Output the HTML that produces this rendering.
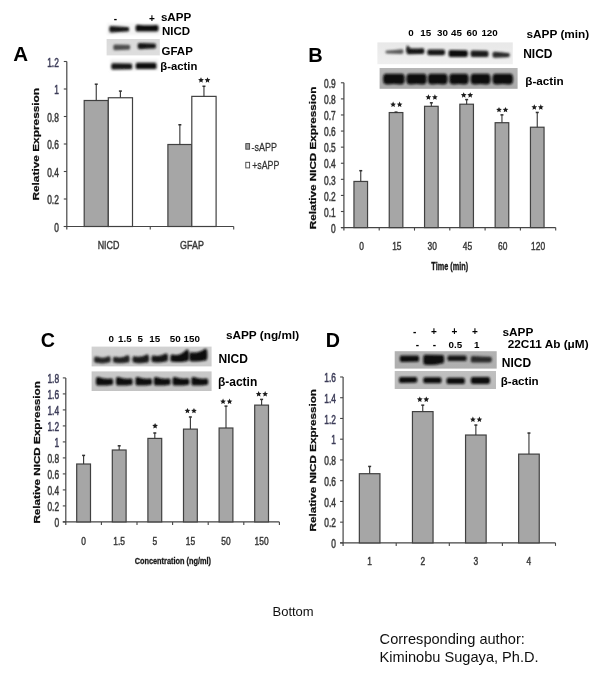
<!DOCTYPE html>
<html><head><meta charset="utf-8"><title>Figure</title>
<style>html,body{margin:0;padding:0;background:#fff;width:602px;height:678px;overflow:hidden}svg{display:block}text{font-family:"Liberation Sans", sans-serif}</style>
</head><body>
<svg width="602" height="678" viewBox="0 0 602 678" font-family='"Liberation Sans", sans-serif'><defs><filter id="gblur" filterUnits="userSpaceOnUse" x="0" y="0" width="602" height="678"><feGaussianBlur stdDeviation="0.6"/></filter><filter id="b8" x="-50%" y="-50%" width="200%" height="200%"><feGaussianBlur stdDeviation="0.8"/></filter><filter id="b9" x="-50%" y="-50%" width="200%" height="200%"><feGaussianBlur stdDeviation="0.9"/></filter><filter id="b10" x="-50%" y="-50%" width="200%" height="200%"><feGaussianBlur stdDeviation="1.0"/></filter></defs><rect width="602" height="678" fill="#fff"/><g filter="url(#gblur)"><text transform="translate(13.30,61.30) scale(1.0,1.0)" font-size="20.5" font-weight="bold" text-anchor="start" fill="#000" >A</text>
<linearGradient id="g1" x1="0" y1="0" x2="0" y2="1"><stop offset="0" stop-color="#f6f6f6"/><stop offset="1" stop-color="#f3f3f3"/></linearGradient>
<rect x="107.00" y="23.00" width="53.00" height="12.00" fill="url(#g1)" filter="url(#b10)"/>
<path d="M109.30,29.15 C109.30,25.90 110.30,25.90 111.80,25.90 Q119.25,26.40 126.70,26.90 C128.20,26.90 129.20,26.90 129.20,29.20 C129.20,31.50 128.20,31.50 126.70,31.50 Q119.25,31.95 111.80,32.40 C110.30,32.40 109.30,32.40 109.30,29.15 Z" fill="#141414" opacity="1.0" filter="url(#b9)"/>
<path d="M135.60,28.15 C135.60,24.80 136.60,24.80 138.10,24.80 Q147.05,25.70 156.00,25.00 C157.50,25.00 158.50,25.00 158.50,28.20 C158.50,31.40 157.50,31.40 156.00,31.40 Q147.05,31.45 138.10,31.50 C136.60,31.50 135.60,31.50 135.60,28.15 Z" fill="#0e0e0e" opacity="1.0" filter="url(#b9)"/>
<linearGradient id="g5" x1="0" y1="0" x2="0" y2="1"><stop offset="0" stop-color="#dadada"/><stop offset="1" stop-color="#dedede"/></linearGradient>
<rect x="106.60" y="39.00" width="53.20" height="16.40" fill="url(#g5)" />
<path d="M113.30,47.40 C113.30,44.60 114.30,44.60 115.80,44.60 Q121.75,44.70 127.70,44.80 C129.20,44.80 130.20,44.80 130.20,47.30 C130.20,49.80 129.20,49.80 127.70,49.80 Q121.75,50.00 115.80,50.20 C114.30,50.20 113.30,50.20 113.30,47.40 Z" fill="#505050" opacity="1.0" filter="url(#b10)"/>
<path d="M137.70,46.10 C137.70,43.00 138.70,43.00 140.20,43.00 Q146.85,43.30 153.50,43.60 C155.00,43.60 156.00,43.60 156.00,46.10 C156.00,48.60 155.00,48.60 153.50,48.60 Q146.85,48.90 140.20,49.20 C138.70,49.20 137.70,49.20 137.70,46.10 Z" fill="#141414" opacity="1.0" filter="url(#b9)"/>
<linearGradient id="g9" x1="0" y1="0" x2="0" y2="1"><stop offset="0" stop-color="#eeeeee"/><stop offset="1" stop-color="#eaeaea"/></linearGradient>
<rect x="110.50" y="59.40" width="47.80" height="11.00" fill="url(#g9)" filter="url(#b8)"/>
<path d="M111.30,66.40 C111.30,63.30 112.30,63.30 113.80,63.30 Q121.75,63.40 129.70,63.50 C131.20,63.50 132.20,63.50 132.20,66.40 C132.20,69.30 131.20,69.30 129.70,69.30 Q121.75,69.40 113.80,69.50 C112.30,69.50 111.30,69.50 111.30,66.40 Z" fill="#121212" opacity="1.0" filter="url(#b8)"/>
<path d="M135.70,65.90 C135.70,62.70 136.70,62.70 138.20,62.70 Q146.10,62.70 154.00,62.70 C155.50,62.70 156.50,62.70 156.50,65.90 C156.50,69.10 155.50,69.10 154.00,69.10 Q146.10,69.10 138.20,69.10 C136.70,69.10 135.70,69.10 135.70,65.90 Z" fill="#111" opacity="1.0" filter="url(#b8)"/>
<text transform="translate(115.30,21.50) scale(1.0,1.0)" font-size="10" font-weight="bold" text-anchor="middle" fill="#000" >-</text>
<text transform="translate(152.00,21.50) scale(1.0,1.0)" font-size="10" font-weight="bold" text-anchor="middle" fill="#000" >+</text>
<text transform="translate(160.90,20.70) scale(1.0,1.0)" font-size="11.6" font-weight="bold" text-anchor="start" fill="#000" >sAPP</text>
<text transform="translate(162.00,35.40) scale(1.0,1.0)" font-size="11.5" font-weight="bold" text-anchor="start" fill="#000" >NICD</text>
<text transform="translate(161.50,54.90) scale(1.0,1.0)" font-size="11.5" font-weight="bold" text-anchor="start" fill="#000" >GFAP</text>
<text transform="translate(160.30,69.70) scale(1.0,1.0)" font-size="11.3" font-weight="bold" text-anchor="start" fill="#000" >β-actin</text>
<line x1="63.80" y1="226.50" x2="66.80" y2="226.50" stroke="#454545" stroke-width="1.1"/>
<text transform="translate(58.80,231.67) scale(1.0,1.42)" font-size="8.4" font-weight="normal" text-anchor="end" fill="#3a3a3a"  stroke="#3a3a3a" stroke-width="0.35">0</text>
<line x1="63.80" y1="199.00" x2="66.80" y2="199.00" stroke="#454545" stroke-width="1.1"/>
<text transform="translate(58.80,204.17) scale(1.0,1.42)" font-size="8.4" font-weight="normal" text-anchor="end" fill="#3a3a3a"  stroke="#3a3a3a" stroke-width="0.35">0.2</text>
<line x1="63.80" y1="171.50" x2="66.80" y2="171.50" stroke="#454545" stroke-width="1.1"/>
<text transform="translate(58.80,176.67) scale(1.0,1.42)" font-size="8.4" font-weight="normal" text-anchor="end" fill="#3a3a3a"  stroke="#3a3a3a" stroke-width="0.35">0.4</text>
<line x1="63.80" y1="144.00" x2="66.80" y2="144.00" stroke="#454545" stroke-width="1.1"/>
<text transform="translate(58.80,149.17) scale(1.0,1.42)" font-size="8.4" font-weight="normal" text-anchor="end" fill="#3a3a3a"  stroke="#3a3a3a" stroke-width="0.35">0.6</text>
<line x1="63.80" y1="116.50" x2="66.80" y2="116.50" stroke="#454545" stroke-width="1.1"/>
<text transform="translate(58.80,121.67) scale(1.0,1.42)" font-size="8.4" font-weight="normal" text-anchor="end" fill="#3a3a3a"  stroke="#3a3a3a" stroke-width="0.35">0.8</text>
<line x1="63.80" y1="89.00" x2="66.80" y2="89.00" stroke="#454545" stroke-width="1.1"/>
<text transform="translate(58.80,94.17) scale(1.0,1.42)" font-size="8.4" font-weight="normal" text-anchor="end" fill="#3c3c58"  stroke="#3c3c58" stroke-width="0.35">1</text>
<line x1="63.80" y1="61.50" x2="66.80" y2="61.50" stroke="#454545" stroke-width="1.1"/>
<text transform="translate(58.80,66.67) scale(1.0,1.42)" font-size="8.4" font-weight="normal" text-anchor="end" fill="#3c3c58"  stroke="#3c3c58" stroke-width="0.35">1.2</text>
<line x1="66.80" y1="61.50" x2="66.80" y2="229.50" stroke="#454545" stroke-width="1.2"/>
<line x1="63.80" y1="226.50" x2="233.70" y2="226.50" stroke="#454545" stroke-width="1.2"/>
<line x1="150.25" y1="226.50" x2="150.25" y2="229.50" stroke="#454545" stroke-width="1.1"/>
<line x1="233.70" y1="226.50" x2="233.70" y2="229.50" stroke="#454545" stroke-width="1.1"/>
<rect x="84.20" y="100.50" width="24.10" height="126.00" fill="#a6a6a6" stroke="#404040" stroke-width="1.2" />
<line x1="96.25" y1="100.50" x2="96.25" y2="84.00" stroke="#3a3a3a" stroke-width="1.15"/>
<line x1="94.75" y1="84.20" x2="97.75" y2="84.20" stroke="#333" stroke-width="1.5"/>
<rect x="108.30" y="97.75" width="24.20" height="128.75" fill="#fff" stroke="#404040" stroke-width="1.2" />
<line x1="120.40" y1="97.75" x2="120.40" y2="90.88" stroke="#3a3a3a" stroke-width="1.15"/>
<line x1="118.90" y1="91.08" x2="121.90" y2="91.08" stroke="#333" stroke-width="1.5"/>
<rect x="167.90" y="144.50" width="23.90" height="82.00" fill="#a6a6a6" stroke="#404040" stroke-width="1.2" />
<line x1="179.85" y1="144.50" x2="179.85" y2="124.56" stroke="#3a3a3a" stroke-width="1.15"/>
<line x1="178.35" y1="124.76" x2="181.35" y2="124.76" stroke="#333" stroke-width="1.5"/>
<rect x="191.80" y="96.38" width="24.30" height="130.12" fill="#fff" stroke="#404040" stroke-width="1.2" />
<line x1="203.95" y1="96.38" x2="203.95" y2="86.06" stroke="#3a3a3a" stroke-width="1.15"/>
<line x1="202.45" y1="86.26" x2="205.45" y2="86.26" stroke="#333" stroke-width="1.5"/>
<polygon points="201.00,77.20 201.82,79.07 203.85,79.27 202.33,80.63 202.76,82.63 201.00,81.60 199.24,82.63 199.67,80.63 198.15,79.27 200.18,79.07" fill="#1a1a1a"/>
<polygon points="207.50,77.20 208.32,79.07 210.35,79.27 208.83,80.63 209.26,82.63 207.50,81.60 205.74,82.63 206.17,80.63 204.65,79.27 206.68,79.07" fill="#1a1a1a"/>
<text transform="translate(108.53,248.74) scale(1.0,1.3)" font-size="8.9" font-weight="normal" text-anchor="middle" fill="#3a3a3a"  stroke="#3a3a3a" stroke-width="0.35">NICD</text>
<text transform="translate(191.98,248.74) scale(1.0,1.3)" font-size="8.9" font-weight="normal" text-anchor="middle" fill="#3a3a3a"  stroke="#3a3a3a" stroke-width="0.35">GFAP</text>
<text transform="translate(38.59,144.25) rotate(-90) scale(1.29,1.0)" font-size="9.2" font-weight="bold" text-anchor="middle" fill="#111"  stroke="#111" stroke-width="0.25">Relative Expression</text>
<rect x="245.80" y="143.60" width="3.80" height="5.60" fill="#a0a0a0" stroke="#444" stroke-width="0.9" />
<text transform="translate(251.50,150.70) scale(1.0,1.25)" font-size="9.0" font-weight="normal" text-anchor="start" fill="#333"  stroke="#333" stroke-width="0.2">-sAPP</text>
<rect x="245.80" y="162.30" width="3.80" height="5.60" fill="#fff" stroke="#444" stroke-width="0.9" />
<text transform="translate(252.20,168.90) scale(1.0,1.25)" font-size="8.8" font-weight="normal" text-anchor="start" fill="#333"  stroke="#333" stroke-width="0.2">+sAPP</text>
<text transform="translate(308.30,61.50) scale(1.0,1.0)" font-size="20" font-weight="bold" text-anchor="start" fill="#000" >B</text>
<text transform="translate(410.85,36.30) scale(1.0,1.0)" font-size="9.8" font-weight="bold" text-anchor="middle" fill="#000" >0</text>
<text transform="translate(425.65,36.30) scale(1.0,1.0)" font-size="9.8" font-weight="bold" text-anchor="middle" fill="#000" >15</text>
<text transform="translate(442.45,36.30) scale(1.0,1.0)" font-size="9.8" font-weight="bold" text-anchor="middle" fill="#000" >30</text>
<text transform="translate(456.50,36.30) scale(1.0,1.0)" font-size="9.8" font-weight="bold" text-anchor="middle" fill="#000" >45</text>
<text transform="translate(472.00,36.30) scale(1.0,1.0)" font-size="9.8" font-weight="bold" text-anchor="middle" fill="#000" >60</text>
<text transform="translate(489.55,36.30) scale(1.0,1.0)" font-size="9.8" font-weight="bold" text-anchor="middle" fill="#000" >120</text>
<text transform="translate(526.50,37.70) scale(1.0,1.0)" font-size="11.8" font-weight="bold" text-anchor="start" fill="#000" >sAPP (min)</text>
<linearGradient id="g66" x1="0" y1="0" x2="0" y2="1"><stop offset="0" stop-color="#e8e8e8"/><stop offset="1" stop-color="#efefef"/></linearGradient>
<rect x="377.40" y="42.40" width="135.40" height="21.80" fill="url(#g66)" />
<path d="M385.50,52.10 C385.50,50.60 386.50,50.60 388.00,50.60 Q394.50,49.90 401.00,49.20 C402.50,49.20 403.50,49.20 403.50,51.60 C403.50,54.00 402.50,54.00 401.00,54.00 Q394.50,53.80 388.00,53.60 C386.50,53.60 385.50,53.60 385.50,52.10 Z" fill="#5a5a5a" opacity="1.0" filter="url(#b9)"/>
<path d="M406.50,51.20 C406.50,48.20 407.50,48.20 409.00,48.20 Q415.45,49.00 421.90,48.20 C423.40,48.20 424.40,48.20 424.40,51.10 C424.40,54.00 423.40,54.00 421.90,54.00 Q415.45,54.10 409.00,54.20 C407.50,54.20 406.50,54.20 406.50,51.20 Z" fill="#121212" opacity="1.0" filter="url(#b9)"/>
<path d="M406.60,48.30 C406.60,45.60 406.84,45.60 407.20,45.60 Q408.10,46.20 409.00,46.80 C409.36,46.80 409.60,46.80 409.60,48.90 C409.60,51.00 409.36,51.00 409.00,51.00 Q408.10,51.00 407.20,51.00 C406.84,51.00 406.60,51.00 406.60,48.30 Z" fill="#1c1c1c" opacity="1.0" filter="url(#b8)"/>
<path d="M427.30,52.30 C427.30,49.40 428.30,49.40 429.80,49.40 Q436.15,49.40 442.50,49.40 C444.00,49.40 445.00,49.40 445.00,52.30 C445.00,55.20 444.00,55.20 442.50,55.20 Q436.15,55.20 429.80,55.20 C428.30,55.20 427.30,55.20 427.30,52.30 Z" fill="#121212" opacity="1.0" filter="url(#b9)"/>
<path d="M448.60,53.50 C448.60,50.00 449.60,50.00 451.10,50.00 Q458.25,50.10 465.40,50.20 C466.90,50.20 467.90,50.20 467.90,53.60 C467.90,57.00 466.90,57.00 465.40,57.00 Q458.25,57.00 451.10,57.00 C449.60,57.00 448.60,57.00 448.60,53.50 Z" fill="#0e0e0e" opacity="1.0" filter="url(#b9)"/>
<path d="M470.60,53.80 C470.60,50.60 471.60,50.60 473.10,50.60 Q479.55,50.70 486.00,50.80 C487.50,50.80 488.50,50.80 488.50,53.90 C488.50,57.00 487.50,57.00 486.00,57.00 Q479.55,57.00 473.10,57.00 C471.60,57.00 470.60,57.00 470.60,53.80 Z" fill="#1a1a1a" opacity="1.0" filter="url(#b9)"/>
<path d="M492.50,54.80 C492.50,51.80 493.50,51.80 495.00,51.80 Q501.15,52.40 507.30,53.00 C508.80,53.00 509.80,53.00 509.80,55.10 C509.80,57.20 508.80,57.20 507.30,57.20 Q501.15,57.50 495.00,57.80 C493.50,57.80 492.50,57.80 492.50,54.80 Z" fill="#2c2c2c" opacity="1.0" filter="url(#b9)"/>
<text transform="translate(523.20,57.90) scale(1.0,1.0)" font-size="12" font-weight="bold" text-anchor="start" fill="#000" >NICD</text>
<linearGradient id="g76" x1="0" y1="0" x2="0" y2="1"><stop offset="0" stop-color="#b6b6b6"/><stop offset="1" stop-color="#a9a9a9"/></linearGradient>
<rect x="379.60" y="68.00" width="138.00" height="20.80" fill="url(#g76)" />
<path d="M383.10,79.10 C383.10,73.80 384.70,73.80 387.10,73.80 Q393.90,73.80 400.70,73.80 C403.10,73.80 404.70,73.80 404.70,79.10 C404.70,84.40 403.10,84.40 400.70,84.40 Q393.90,83.60 387.10,84.40 C384.70,84.40 383.10,84.40 383.10,79.10 Z" fill="#0b0b0b" opacity="1.0" filter="url(#b10)"/>
<path d="M406.40,79.10 C406.40,73.80 408.00,73.80 410.40,73.80 Q416.55,73.80 422.70,73.80 C425.10,73.80 426.70,73.80 426.70,79.10 C426.70,84.40 425.10,84.40 422.70,84.40 Q416.55,83.60 410.40,84.40 C408.00,84.40 406.40,84.40 406.40,79.10 Z" fill="#0b0b0b" opacity="1.0" filter="url(#b10)"/>
<path d="M427.90,79.10 C427.90,73.80 429.50,73.80 431.90,73.80 Q437.75,73.80 443.60,73.80 C446.00,73.80 447.60,73.80 447.60,79.10 C447.60,84.40 446.00,84.40 443.60,84.40 Q437.75,83.60 431.90,84.40 C429.50,84.40 427.90,84.40 427.90,79.10 Z" fill="#0b0b0b" opacity="1.0" filter="url(#b10)"/>
<path d="M449.30,79.10 C449.30,73.80 450.90,73.80 453.30,73.80 Q458.95,73.80 464.60,73.80 C467.00,73.80 468.60,73.80 468.60,79.10 C468.60,84.40 467.00,84.40 464.60,84.40 Q458.95,83.60 453.30,84.40 C450.90,84.40 449.30,84.40 449.30,79.10 Z" fill="#0b0b0b" opacity="1.0" filter="url(#b10)"/>
<path d="M470.60,79.10 C470.60,73.80 472.20,73.80 474.60,73.80 Q480.55,73.80 486.50,73.80 C488.90,73.80 490.50,73.80 490.50,79.10 C490.50,84.40 488.90,84.40 486.50,84.40 Q480.55,83.60 474.60,84.40 C472.20,84.40 470.60,84.40 470.60,79.10 Z" fill="#0b0b0b" opacity="1.0" filter="url(#b10)"/>
<path d="M492.50,79.10 C492.50,73.80 494.10,73.80 496.50,73.80 Q502.80,73.80 509.10,73.80 C511.50,73.80 513.10,73.80 513.10,79.10 C513.10,84.40 511.50,84.40 509.10,84.40 Q502.80,83.60 496.50,84.40 C494.10,84.40 492.50,84.40 492.50,79.10 Z" fill="#0b0b0b" opacity="1.0" filter="url(#b10)"/>
<text transform="translate(525.30,85.00) scale(1.0,1.0)" font-size="11.7" font-weight="bold" text-anchor="start" fill="#000" >β-actin</text>
<line x1="340.90" y1="227.60" x2="343.90" y2="227.60" stroke="#454545" stroke-width="1.1"/>
<text transform="translate(335.70,232.77) scale(1.0,1.42)" font-size="8.4" font-weight="normal" text-anchor="end" fill="#3a3a3a"  stroke="#3a3a3a" stroke-width="0.35">0</text>
<line x1="340.90" y1="211.51" x2="343.90" y2="211.51" stroke="#454545" stroke-width="1.1"/>
<text transform="translate(335.70,216.68) scale(1.0,1.42)" font-size="8.4" font-weight="normal" text-anchor="end" fill="#3a3a3a"  stroke="#3a3a3a" stroke-width="0.35">0.1</text>
<line x1="340.90" y1="195.42" x2="343.90" y2="195.42" stroke="#454545" stroke-width="1.1"/>
<text transform="translate(335.70,200.59) scale(1.0,1.42)" font-size="8.4" font-weight="normal" text-anchor="end" fill="#3a3a3a"  stroke="#3a3a3a" stroke-width="0.35">0.2</text>
<line x1="340.90" y1="179.33" x2="343.90" y2="179.33" stroke="#454545" stroke-width="1.1"/>
<text transform="translate(335.70,184.50) scale(1.0,1.42)" font-size="8.4" font-weight="normal" text-anchor="end" fill="#3a3a3a"  stroke="#3a3a3a" stroke-width="0.35">0.3</text>
<line x1="340.90" y1="163.24" x2="343.90" y2="163.24" stroke="#454545" stroke-width="1.1"/>
<text transform="translate(335.70,168.41) scale(1.0,1.42)" font-size="8.4" font-weight="normal" text-anchor="end" fill="#3a3a3a"  stroke="#3a3a3a" stroke-width="0.35">0.4</text>
<line x1="340.90" y1="147.15" x2="343.90" y2="147.15" stroke="#454545" stroke-width="1.1"/>
<text transform="translate(335.70,152.32) scale(1.0,1.42)" font-size="8.4" font-weight="normal" text-anchor="end" fill="#3a3a3a"  stroke="#3a3a3a" stroke-width="0.35">0.5</text>
<line x1="340.90" y1="131.06" x2="343.90" y2="131.06" stroke="#454545" stroke-width="1.1"/>
<text transform="translate(335.70,136.23) scale(1.0,1.42)" font-size="8.4" font-weight="normal" text-anchor="end" fill="#3a3a3a"  stroke="#3a3a3a" stroke-width="0.35">0.6</text>
<line x1="340.90" y1="114.97" x2="343.90" y2="114.97" stroke="#454545" stroke-width="1.1"/>
<text transform="translate(335.70,120.14) scale(1.0,1.42)" font-size="8.4" font-weight="normal" text-anchor="end" fill="#3a3a3a"  stroke="#3a3a3a" stroke-width="0.35">0.7</text>
<line x1="340.90" y1="98.88" x2="343.90" y2="98.88" stroke="#454545" stroke-width="1.1"/>
<text transform="translate(335.70,104.05) scale(1.0,1.42)" font-size="8.4" font-weight="normal" text-anchor="end" fill="#3a3a3a"  stroke="#3a3a3a" stroke-width="0.35">0.8</text>
<line x1="340.90" y1="82.79" x2="343.90" y2="82.79" stroke="#454545" stroke-width="1.1"/>
<text transform="translate(335.70,87.96) scale(1.0,1.42)" font-size="8.4" font-weight="normal" text-anchor="end" fill="#3a3a3a"  stroke="#3a3a3a" stroke-width="0.35">0.9</text>
<line x1="343.90" y1="82.79" x2="343.90" y2="230.60" stroke="#454545" stroke-width="1.2"/>
<line x1="340.90" y1="227.60" x2="555.70" y2="227.60" stroke="#454545" stroke-width="1.2"/>
<line x1="379.20" y1="227.60" x2="379.20" y2="230.60" stroke="#454545" stroke-width="1.1"/>
<line x1="414.50" y1="227.60" x2="414.50" y2="230.60" stroke="#454545" stroke-width="1.1"/>
<line x1="449.80" y1="227.60" x2="449.80" y2="230.60" stroke="#454545" stroke-width="1.1"/>
<line x1="485.10" y1="227.60" x2="485.10" y2="230.60" stroke="#454545" stroke-width="1.1"/>
<line x1="520.40" y1="227.60" x2="520.40" y2="230.60" stroke="#454545" stroke-width="1.1"/>
<line x1="555.70" y1="227.60" x2="555.70" y2="230.60" stroke="#454545" stroke-width="1.1"/>
<rect x="353.95" y="181.44" width="13.60" height="46.16" fill="#a6a6a6" stroke="#404040" stroke-width="1.2" />
<line x1="360.75" y1="181.44" x2="360.75" y2="170.50" stroke="#3a3a3a" stroke-width="1.15"/>
<line x1="359.25" y1="170.70" x2="362.25" y2="170.70" stroke="#333" stroke-width="1.5"/>
<rect x="389.25" y="112.57" width="13.60" height="115.03" fill="#a6a6a6" stroke="#404040" stroke-width="1.2" />
<line x1="396.05" y1="112.57" x2="396.05" y2="111.93" stroke="#3a3a3a" stroke-width="1.15"/>
<line x1="394.55" y1="112.13" x2="397.55" y2="112.13" stroke="#333" stroke-width="1.5"/>
<polygon points="393.10,101.60 393.92,103.47 395.95,103.67 394.43,105.03 394.86,107.03 393.10,106.00 391.34,107.03 391.77,105.03 390.25,103.67 392.28,103.47" fill="#1a1a1a"/>
<polygon points="399.60,101.60 400.42,103.47 402.45,103.67 400.93,105.03 401.36,107.03 399.60,106.00 397.84,107.03 398.27,105.03 396.75,103.67 398.78,103.47" fill="#1a1a1a"/>
<rect x="424.55" y="106.30" width="13.60" height="121.30" fill="#a6a6a6" stroke="#404040" stroke-width="1.2" />
<line x1="431.35" y1="106.30" x2="431.35" y2="102.60" stroke="#3a3a3a" stroke-width="1.15"/>
<line x1="429.85" y1="102.80" x2="432.85" y2="102.80" stroke="#333" stroke-width="1.5"/>
<polygon points="428.40,94.30 429.22,96.17 431.25,96.37 429.73,97.73 430.16,99.73 428.40,98.70 426.64,99.73 427.07,97.73 425.55,96.37 427.58,96.17" fill="#1a1a1a"/>
<polygon points="434.90,94.30 435.72,96.17 437.75,96.37 436.23,97.73 436.66,99.73 434.90,98.70 433.14,99.73 433.57,97.73 432.05,96.37 434.08,96.17" fill="#1a1a1a"/>
<rect x="459.85" y="104.21" width="13.60" height="123.39" fill="#a6a6a6" stroke="#404040" stroke-width="1.2" />
<line x1="466.65" y1="104.21" x2="466.65" y2="99.38" stroke="#3a3a3a" stroke-width="1.15"/>
<line x1="465.15" y1="99.58" x2="468.15" y2="99.58" stroke="#333" stroke-width="1.5"/>
<polygon points="463.70,92.20 464.52,94.07 466.55,94.27 465.03,95.63 465.46,97.63 463.70,96.60 461.94,97.63 462.37,95.63 460.85,94.27 462.88,94.07" fill="#1a1a1a"/>
<polygon points="470.20,92.20 471.02,94.07 473.05,94.27 471.53,95.63 471.96,97.63 470.20,96.60 468.44,97.63 468.87,95.63 467.35,94.27 469.38,94.07" fill="#1a1a1a"/>
<rect x="495.15" y="122.71" width="13.60" height="104.89" fill="#a6a6a6" stroke="#404040" stroke-width="1.2" />
<line x1="501.95" y1="122.71" x2="501.95" y2="114.67" stroke="#3a3a3a" stroke-width="1.15"/>
<line x1="500.45" y1="114.87" x2="503.45" y2="114.87" stroke="#333" stroke-width="1.5"/>
<polygon points="499.00,106.90 499.82,108.77 501.85,108.97 500.33,110.33 500.76,112.33 499.00,111.30 497.24,112.33 497.67,110.33 496.15,108.97 498.18,108.77" fill="#1a1a1a"/>
<polygon points="505.50,106.90 506.32,108.77 508.35,108.97 506.83,110.33 507.26,112.33 505.50,111.30 503.74,112.33 504.17,110.33 502.65,108.97 504.68,108.77" fill="#1a1a1a"/>
<rect x="530.45" y="127.22" width="13.60" height="100.38" fill="#a6a6a6" stroke="#404040" stroke-width="1.2" />
<line x1="537.25" y1="127.22" x2="537.25" y2="112.25" stroke="#3a3a3a" stroke-width="1.15"/>
<line x1="535.75" y1="112.45" x2="538.75" y2="112.45" stroke="#333" stroke-width="1.5"/>
<polygon points="534.30,104.30 535.12,106.17 537.15,106.37 535.63,107.73 536.06,109.73 534.30,108.70 532.54,109.73 532.97,107.73 531.45,106.37 533.48,106.17" fill="#1a1a1a"/>
<polygon points="540.80,104.30 541.62,106.17 543.65,106.37 542.13,107.73 542.56,109.73 540.80,108.70 539.04,109.73 539.47,107.73 537.95,106.37 539.98,106.17" fill="#1a1a1a"/>
<text transform="translate(361.55,249.61) scale(1.0,1.3)" font-size="8.4" font-weight="normal" text-anchor="middle" fill="#3a3a3a"  stroke="#3a3a3a" stroke-width="0.35">0</text>
<text transform="translate(396.85,249.61) scale(1.0,1.3)" font-size="8.4" font-weight="normal" text-anchor="middle" fill="#3a3a3a"  stroke="#3a3a3a" stroke-width="0.35">15</text>
<text transform="translate(432.15,249.61) scale(1.0,1.3)" font-size="8.4" font-weight="normal" text-anchor="middle" fill="#3a3a3a"  stroke="#3a3a3a" stroke-width="0.35">30</text>
<text transform="translate(467.45,249.61) scale(1.0,1.3)" font-size="8.4" font-weight="normal" text-anchor="middle" fill="#3a3a3a"  stroke="#3a3a3a" stroke-width="0.35">45</text>
<text transform="translate(502.75,249.61) scale(1.0,1.3)" font-size="8.4" font-weight="normal" text-anchor="middle" fill="#3a3a3a"  stroke="#3a3a3a" stroke-width="0.35">60</text>
<text transform="translate(538.05,249.61) scale(1.0,1.3)" font-size="8.4" font-weight="normal" text-anchor="middle" fill="#3a3a3a"  stroke="#3a3a3a" stroke-width="0.35">120</text>
<text transform="translate(315.82,157.95) rotate(-90) scale(1.295,1.0)" font-size="9.0" font-weight="bold" text-anchor="middle" fill="#111"  stroke="#111" stroke-width="0.25">Relative NICD Expression</text>
<text transform="translate(449.70,270.42) scale(1.0,1.5)" font-size="7.3" font-weight="bold" text-anchor="middle" fill="#1a1a1a"  stroke="#1a1a1a" stroke-width="0.25">Time (min)</text>
<text transform="translate(40.80,347.40) scale(1.0,1.0)" font-size="19.7" font-weight="bold" text-anchor="start" fill="#000" >C</text>
<text transform="translate(111.20,342.20) scale(1.0,1.0)" font-size="9.8" font-weight="bold" text-anchor="middle" fill="#000" >0</text>
<text transform="translate(124.90,342.20) scale(1.0,1.0)" font-size="9.8" font-weight="bold" text-anchor="middle" fill="#000" >1.5</text>
<text transform="translate(140.30,342.20) scale(1.0,1.0)" font-size="9.8" font-weight="bold" text-anchor="middle" fill="#000" >5</text>
<text transform="translate(154.80,342.20) scale(1.0,1.0)" font-size="9.8" font-weight="bold" text-anchor="middle" fill="#000" >15</text>
<text transform="translate(175.20,342.20) scale(1.0,1.0)" font-size="9.8" font-weight="bold" text-anchor="middle" fill="#000" >50</text>
<text transform="translate(191.65,342.20) scale(1.0,1.0)" font-size="9.8" font-weight="bold" text-anchor="middle" fill="#000" >150</text>
<text transform="translate(225.90,339.00) scale(1.0,1.0)" font-size="11.8" font-weight="bold" text-anchor="start" fill="#000" >sAPP (ng/ml)</text>
<linearGradient id="g157" x1="0" y1="0" x2="0" y2="1"><stop offset="0" stop-color="#d2d2d2"/><stop offset="1" stop-color="#cbcbcb"/></linearGradient>
<rect x="91.60" y="346.60" width="120.00" height="19.80" fill="url(#g157)" />
<path d="M94.10,359.70 C94.10,356.60 95.10,356.60 96.60,356.60 Q102.40,359.00 108.20,356.20 C109.70,356.20 110.70,356.20 110.70,359.40 C110.70,362.60 109.70,362.60 108.20,362.60 Q102.40,364.30 96.60,362.80 C95.10,362.80 94.10,362.80 94.10,359.70 Z" fill="#262626" opacity="1.0" filter="url(#b9)"/>
<path d="M113.00,359.80 C113.00,356.80 114.00,356.80 115.50,356.80 Q121.30,358.60 127.10,355.20 C128.60,355.20 129.60,355.20 129.60,358.90 C129.60,362.60 128.60,362.60 127.10,362.60 Q121.30,363.90 115.50,362.80 C114.00,362.80 113.00,362.80 113.00,359.80 Z" fill="#202020" opacity="1.0" filter="url(#b9)"/>
<path d="M132.50,359.50 C132.50,356.20 133.50,356.20 135.00,356.20 Q140.80,357.90 146.60,354.40 C148.10,354.40 149.10,354.40 149.10,358.50 C149.10,362.60 148.10,362.60 146.60,362.60 Q140.80,363.90 135.00,362.80 C133.50,362.80 132.50,362.80 132.50,359.50 Z" fill="#1c1c1c" opacity="1.0" filter="url(#b9)"/>
<path d="M151.40,358.80 C151.40,355.40 152.40,355.40 153.90,355.40 Q159.70,357.00 165.50,353.40 C167.00,353.40 168.00,353.40 168.00,357.50 C168.00,361.60 167.00,361.60 165.50,361.60 Q159.70,363.10 153.90,362.20 C152.40,362.20 151.40,362.20 151.40,358.80 Z" fill="#141414" opacity="1.0" filter="url(#b9)"/>
<path d="M170.30,358.20 C170.30,354.60 171.30,354.60 172.80,354.60 Q179.70,356.40 186.60,349.40 C188.10,349.40 189.10,349.40 189.10,355.30 C189.10,361.20 188.10,361.20 186.60,361.20 Q179.70,362.50 172.80,361.80 C171.30,361.80 170.30,361.80 170.30,358.20 Z" fill="#0e0e0e" opacity="1.0" filter="url(#b9)"/>
<path d="M189.20,356.80 C189.20,352.20 190.20,352.20 191.70,352.20 Q198.30,353.70 204.90,348.80 C206.40,348.80 207.40,348.80 207.40,354.70 C207.40,360.60 206.40,360.60 204.90,360.60 Q198.30,362.00 191.70,361.40 C190.20,361.40 189.20,361.40 189.20,356.80 Z" fill="#0c0c0c" opacity="1.0" filter="url(#b9)"/>
<text transform="translate(218.50,362.90) scale(1.0,1.0)" font-size="12" font-weight="bold" text-anchor="start" fill="#000" >NICD</text>
<linearGradient id="g166" x1="0" y1="0" x2="0" y2="1"><stop offset="0" stop-color="#c9c9c9"/><stop offset="1" stop-color="#c3c3c3"/></linearGradient>
<rect x="91.60" y="371.40" width="120.00" height="19.60" fill="url(#g166)" />
<path d="M95.90,381.20 C95.90,377.00 96.90,377.00 98.40,377.00 Q104.55,379.50 110.70,378.40 C112.20,378.40 113.20,378.40 113.20,381.70 C113.20,385.00 112.20,385.00 110.70,385.00 Q104.55,385.80 98.40,385.40 C96.90,385.40 95.90,385.40 95.90,381.20 Z" fill="#0e0e0e" opacity="1.0" filter="url(#b9)"/>
<path d="M115.90,381.20 C115.90,377.00 116.90,377.00 118.40,377.00 Q124.30,379.50 130.20,378.40 C131.70,378.40 132.70,378.40 132.70,381.70 C132.70,385.00 131.70,385.00 130.20,385.00 Q124.30,385.80 118.40,385.40 C116.90,385.40 115.90,385.40 115.90,381.20 Z" fill="#0e0e0e" opacity="1.0" filter="url(#b9)"/>
<path d="M135.40,381.20 C135.40,377.00 136.40,377.00 137.90,377.00 Q143.75,379.50 149.60,378.40 C151.10,378.40 152.10,378.40 152.10,381.70 C152.10,385.00 151.10,385.00 149.60,385.00 Q143.75,385.80 137.90,385.40 C136.40,385.40 135.40,385.40 135.40,381.20 Z" fill="#0e0e0e" opacity="1.0" filter="url(#b9)"/>
<path d="M153.80,381.20 C153.80,377.00 154.80,377.00 156.30,377.00 Q162.20,379.50 168.10,378.40 C169.60,378.40 170.60,378.40 170.60,381.70 C170.60,385.00 169.60,385.00 168.10,385.00 Q162.20,385.80 156.30,385.40 C154.80,385.40 153.80,385.40 153.80,381.20 Z" fill="#0e0e0e" opacity="1.0" filter="url(#b9)"/>
<path d="M172.50,381.20 C172.50,377.00 173.50,377.00 175.00,377.00 Q180.95,379.50 186.90,378.40 C188.40,378.40 189.40,378.40 189.40,381.70 C189.40,385.00 188.40,385.00 186.90,385.00 Q180.95,385.80 175.00,385.40 C173.50,385.40 172.50,385.40 172.50,381.20 Z" fill="#0e0e0e" opacity="1.0" filter="url(#b9)"/>
<path d="M191.30,381.20 C191.30,377.00 192.30,377.00 193.80,377.00 Q199.75,379.50 205.70,378.40 C207.20,378.40 208.20,378.40 208.20,381.70 C208.20,385.00 207.20,385.00 205.70,385.00 Q199.75,385.80 193.80,385.40 C192.30,385.40 191.30,385.40 191.30,381.20 Z" fill="#0e0e0e" opacity="1.0" filter="url(#b9)"/>
<text transform="translate(217.90,385.80) scale(1.0,1.0)" font-size="12" font-weight="bold" text-anchor="start" fill="#000" >β-actin</text>
<line x1="62.80" y1="521.90" x2="65.80" y2="521.90" stroke="#454545" stroke-width="1.1"/>
<text transform="translate(59.10,527.07) scale(1.0,1.42)" font-size="8.4" font-weight="normal" text-anchor="end" fill="#3a3a3a"  stroke="#3a3a3a" stroke-width="0.35">0</text>
<line x1="62.80" y1="505.90" x2="65.80" y2="505.90" stroke="#454545" stroke-width="1.1"/>
<text transform="translate(59.10,511.07) scale(1.0,1.42)" font-size="8.4" font-weight="normal" text-anchor="end" fill="#3a3a3a"  stroke="#3a3a3a" stroke-width="0.35">0.2</text>
<line x1="62.80" y1="489.90" x2="65.80" y2="489.90" stroke="#454545" stroke-width="1.1"/>
<text transform="translate(59.10,495.07) scale(1.0,1.42)" font-size="8.4" font-weight="normal" text-anchor="end" fill="#3a3a3a"  stroke="#3a3a3a" stroke-width="0.35">0.4</text>
<line x1="62.80" y1="473.90" x2="65.80" y2="473.90" stroke="#454545" stroke-width="1.1"/>
<text transform="translate(59.10,479.07) scale(1.0,1.42)" font-size="8.4" font-weight="normal" text-anchor="end" fill="#3a3a3a"  stroke="#3a3a3a" stroke-width="0.35">0.6</text>
<line x1="62.80" y1="457.90" x2="65.80" y2="457.90" stroke="#454545" stroke-width="1.1"/>
<text transform="translate(59.10,463.07) scale(1.0,1.42)" font-size="8.4" font-weight="normal" text-anchor="end" fill="#3a3a3a"  stroke="#3a3a3a" stroke-width="0.35">0.8</text>
<line x1="62.80" y1="441.90" x2="65.80" y2="441.90" stroke="#454545" stroke-width="1.1"/>
<text transform="translate(59.10,447.07) scale(1.0,1.42)" font-size="8.4" font-weight="normal" text-anchor="end" fill="#3c3c58"  stroke="#3c3c58" stroke-width="0.35">1</text>
<line x1="62.80" y1="425.90" x2="65.80" y2="425.90" stroke="#454545" stroke-width="1.1"/>
<text transform="translate(59.10,431.07) scale(1.0,1.42)" font-size="8.4" font-weight="normal" text-anchor="end" fill="#3c3c58"  stroke="#3c3c58" stroke-width="0.35">1.2</text>
<line x1="62.80" y1="409.90" x2="65.80" y2="409.90" stroke="#454545" stroke-width="1.1"/>
<text transform="translate(59.10,415.07) scale(1.0,1.42)" font-size="8.4" font-weight="normal" text-anchor="end" fill="#3c3c58"  stroke="#3c3c58" stroke-width="0.35">1.4</text>
<line x1="62.80" y1="393.90" x2="65.80" y2="393.90" stroke="#454545" stroke-width="1.1"/>
<text transform="translate(59.10,399.07) scale(1.0,1.42)" font-size="8.4" font-weight="normal" text-anchor="end" fill="#3c3c58"  stroke="#3c3c58" stroke-width="0.35">1.6</text>
<line x1="62.80" y1="377.90" x2="65.80" y2="377.90" stroke="#454545" stroke-width="1.1"/>
<text transform="translate(59.10,383.07) scale(1.0,1.42)" font-size="8.4" font-weight="normal" text-anchor="end" fill="#3c3c58"  stroke="#3c3c58" stroke-width="0.35">1.8</text>
<line x1="65.80" y1="377.90" x2="65.80" y2="524.90" stroke="#454545" stroke-width="1.2"/>
<line x1="62.80" y1="521.90" x2="279.40" y2="521.90" stroke="#454545" stroke-width="1.2"/>
<line x1="101.40" y1="521.90" x2="101.40" y2="524.90" stroke="#454545" stroke-width="1.1"/>
<line x1="137.00" y1="521.90" x2="137.00" y2="524.90" stroke="#454545" stroke-width="1.1"/>
<line x1="172.60" y1="521.90" x2="172.60" y2="524.90" stroke="#454545" stroke-width="1.1"/>
<line x1="208.20" y1="521.90" x2="208.20" y2="524.90" stroke="#454545" stroke-width="1.1"/>
<line x1="243.80" y1="521.90" x2="243.80" y2="524.90" stroke="#454545" stroke-width="1.1"/>
<line x1="279.40" y1="521.90" x2="279.40" y2="524.90" stroke="#454545" stroke-width="1.1"/>
<rect x="76.70" y="464.00" width="13.80" height="57.90" fill="#a6a6a6" stroke="#404040" stroke-width="1.2" />
<line x1="83.60" y1="464.00" x2="83.60" y2="455.20" stroke="#3a3a3a" stroke-width="1.15"/>
<line x1="82.10" y1="455.40" x2="85.10" y2="455.40" stroke="#333" stroke-width="1.5"/>
<rect x="112.30" y="450.00" width="13.80" height="71.90" fill="#a6a6a6" stroke="#404040" stroke-width="1.2" />
<line x1="119.20" y1="450.00" x2="119.20" y2="445.60" stroke="#3a3a3a" stroke-width="1.15"/>
<line x1="117.70" y1="445.80" x2="120.70" y2="445.80" stroke="#333" stroke-width="1.5"/>
<rect x="147.90" y="438.40" width="13.80" height="83.50" fill="#a6a6a6" stroke="#404040" stroke-width="1.2" />
<line x1="154.80" y1="438.40" x2="154.80" y2="432.80" stroke="#3a3a3a" stroke-width="1.15"/>
<line x1="153.30" y1="433.00" x2="156.30" y2="433.00" stroke="#333" stroke-width="1.5"/>
<polygon points="155.10,423.00 155.92,424.87 157.95,425.07 156.43,426.43 156.86,428.43 155.10,427.40 153.34,428.43 153.77,426.43 152.25,425.07 154.28,424.87" fill="#1a1a1a"/>
<rect x="183.50" y="429.12" width="13.80" height="92.78" fill="#a6a6a6" stroke="#404040" stroke-width="1.2" />
<line x1="190.40" y1="429.12" x2="190.40" y2="416.80" stroke="#3a3a3a" stroke-width="1.15"/>
<line x1="188.90" y1="417.00" x2="191.90" y2="417.00" stroke="#333" stroke-width="1.5"/>
<polygon points="187.45,407.90 188.27,409.77 190.30,409.97 188.78,411.33 189.21,413.33 187.45,412.30 185.69,413.33 186.12,411.33 184.60,409.97 186.63,409.77" fill="#1a1a1a"/>
<polygon points="193.95,407.90 194.77,409.77 196.80,409.97 195.28,411.33 195.71,413.33 193.95,412.30 192.19,413.33 192.62,411.33 191.10,409.97 193.13,409.77" fill="#1a1a1a"/>
<rect x="219.10" y="428.00" width="13.80" height="93.90" fill="#a6a6a6" stroke="#404040" stroke-width="1.2" />
<line x1="226.00" y1="428.00" x2="226.00" y2="405.92" stroke="#3a3a3a" stroke-width="1.15"/>
<line x1="224.50" y1="406.12" x2="227.50" y2="406.12" stroke="#333" stroke-width="1.5"/>
<polygon points="223.05,398.60 223.87,400.47 225.90,400.67 224.38,402.03 224.81,404.03 223.05,403.00 221.29,404.03 221.72,402.03 220.20,400.67 222.23,400.47" fill="#1a1a1a"/>
<polygon points="229.55,398.60 230.37,400.47 232.40,400.67 230.88,402.03 231.31,404.03 229.55,403.00 227.79,404.03 228.22,402.03 226.70,400.67 228.73,400.47" fill="#1a1a1a"/>
<rect x="254.70" y="405.12" width="13.80" height="116.78" fill="#a6a6a6" stroke="#404040" stroke-width="1.2" />
<line x1="261.60" y1="405.12" x2="261.60" y2="399.20" stroke="#3a3a3a" stroke-width="1.15"/>
<line x1="260.10" y1="399.40" x2="263.10" y2="399.40" stroke="#333" stroke-width="1.5"/>
<polygon points="258.65,391.10 259.47,392.97 261.50,393.17 259.98,394.53 260.41,396.53 258.65,395.50 256.89,396.53 257.32,394.53 255.80,393.17 257.83,392.97" fill="#1a1a1a"/>
<polygon points="265.15,391.10 265.97,392.97 268.00,393.17 266.48,394.53 266.91,396.53 265.15,395.50 263.39,396.53 263.82,394.53 262.30,393.17 264.33,392.97" fill="#1a1a1a"/>
<text transform="translate(83.60,544.71) scale(1.0,1.3)" font-size="8.4" font-weight="normal" text-anchor="middle" fill="#3a3a3a"  stroke="#3a3a3a" stroke-width="0.35">0</text>
<text transform="translate(119.20,544.71) scale(1.0,1.3)" font-size="8.4" font-weight="normal" text-anchor="middle" fill="#3a3a3a"  stroke="#3a3a3a" stroke-width="0.35">1.5</text>
<text transform="translate(154.80,544.71) scale(1.0,1.3)" font-size="8.4" font-weight="normal" text-anchor="middle" fill="#3a3a3a"  stroke="#3a3a3a" stroke-width="0.35">5</text>
<text transform="translate(190.40,544.71) scale(1.0,1.3)" font-size="8.4" font-weight="normal" text-anchor="middle" fill="#3a3a3a"  stroke="#3a3a3a" stroke-width="0.35">15</text>
<text transform="translate(226.00,544.71) scale(1.0,1.3)" font-size="8.4" font-weight="normal" text-anchor="middle" fill="#3a3a3a"  stroke="#3a3a3a" stroke-width="0.35">50</text>
<text transform="translate(261.60,544.71) scale(1.0,1.3)" font-size="8.4" font-weight="normal" text-anchor="middle" fill="#3a3a3a"  stroke="#3a3a3a" stroke-width="0.35">150</text>
<text transform="translate(39.52,452.40) rotate(-90) scale(1.295,1.0)" font-size="9.0" font-weight="bold" text-anchor="middle" fill="#111"  stroke="#111" stroke-width="0.25">Relative NICD Expression</text>
<text transform="translate(172.80,564.25) scale(1.0,1.35)" font-size="7.35" font-weight="bold" text-anchor="middle" fill="#1a1a1a"  stroke="#1a1a1a" stroke-width="0.25">Concentration (ng/ml)</text>
<text transform="translate(325.80,347.40) scale(1.0,1.0)" font-size="19.7" font-weight="bold" text-anchor="start" fill="#000" >D</text>
<text transform="translate(414.60,335.00) scale(1.0,1.0)" font-size="10" font-weight="bold" text-anchor="middle" fill="#000" >-</text>
<text transform="translate(434.00,335.00) scale(1.0,1.0)" font-size="10" font-weight="bold" text-anchor="middle" fill="#000" >+</text>
<text transform="translate(454.50,335.00) scale(1.0,1.0)" font-size="10" font-weight="bold" text-anchor="middle" fill="#000" >+</text>
<text transform="translate(475.00,335.00) scale(1.0,1.0)" font-size="10" font-weight="bold" text-anchor="middle" fill="#000" >+</text>
<text transform="translate(417.40,348.40) scale(1.0,1.0)" font-size="10" font-weight="bold" text-anchor="middle" fill="#000" >-</text>
<text transform="translate(434.50,348.40) scale(1.0,1.0)" font-size="10" font-weight="bold" text-anchor="middle" fill="#000" >-</text>
<text transform="translate(455.40,348.30) scale(1.0,1.0)" font-size="9.8" font-weight="bold" text-anchor="middle" fill="#000" >0.5</text>
<text transform="translate(476.80,348.30) scale(1.0,1.0)" font-size="9.8" font-weight="bold" text-anchor="middle" fill="#000" >1</text>
<text transform="translate(502.50,335.70) scale(1.0,1.0)" font-size="11.8" font-weight="bold" text-anchor="start" fill="#000" >sAPP</text>
<text transform="translate(507.70,348.40) scale(1.0,1.0)" font-size="11.8" font-weight="bold" text-anchor="start" fill="#000" >22C11 Ab (μM)</text>
<linearGradient id="g247" x1="0" y1="0" x2="0" y2="1"><stop offset="0" stop-color="#b2b2b2"/><stop offset="1" stop-color="#afafaf"/></linearGradient>
<rect x="394.70" y="351.20" width="102.00" height="17.40" fill="url(#g247)" />
<path d="M399.80,358.65 C399.80,355.40 400.80,355.40 402.30,355.40 Q409.45,355.50 416.60,355.60 C418.10,355.60 419.10,355.60 419.10,358.65 C419.10,361.70 418.10,361.70 416.60,361.70 Q409.45,361.80 402.30,361.90 C400.80,361.90 399.80,361.90 399.80,358.65 Z" fill="#0e0e0e" opacity="1.0" filter="url(#b9)"/>
<path d="M423.20,359.80 C423.20,354.80 424.20,354.80 425.70,354.80 Q433.70,354.90 441.70,355.00 C443.20,355.00 444.20,355.00 444.20,359.30 C444.20,363.60 443.20,363.60 441.70,363.60 Q433.70,365.80 425.70,364.80 C424.20,364.80 423.20,364.80 423.20,359.80 Z" fill="#0c0c0c" opacity="1.0" filter="url(#b10)"/>
<path d="M447.40,358.30 C447.40,355.50 448.40,355.50 449.90,355.50 Q457.05,355.50 464.20,355.50 C465.70,355.50 466.70,355.50 466.70,358.30 C466.70,361.10 465.70,361.10 464.20,361.10 Q457.05,361.10 449.90,361.10 C448.40,361.10 447.40,361.10 447.40,358.30 Z" fill="#151515" opacity="1.0" filter="url(#b9)"/>
<path d="M470.80,359.30 C470.80,356.00 471.80,356.00 473.30,356.00 Q481.30,356.40 489.30,356.80 C490.80,356.80 491.80,356.80 491.80,359.60 C491.80,362.40 490.80,362.40 489.30,362.40 Q481.30,362.50 473.30,362.60 C471.80,362.60 470.80,362.60 470.80,359.30 Z" fill="#2a2a2a" opacity="1.0" filter="url(#b10)"/>
<text transform="translate(501.80,366.60) scale(1.0,1.0)" font-size="12" font-weight="bold" text-anchor="start" fill="#000" >NICD</text>
<linearGradient id="g254" x1="0" y1="0" x2="0" y2="1"><stop offset="0" stop-color="#c0c0c0"/><stop offset="1" stop-color="#bababa"/></linearGradient>
<rect x="394.70" y="371.00" width="101.30" height="18.00" fill="url(#g254)" />
<path d="M399.00,379.90 C399.00,376.90 400.00,376.90 401.50,376.90 Q408.15,376.90 414.80,376.90 C416.30,376.90 417.30,376.90 417.30,379.80 C417.30,382.70 416.30,382.70 414.80,382.70 Q408.15,382.80 401.50,382.90 C400.00,382.90 399.00,382.90 399.00,379.90 Z" fill="#0c0c0c" opacity="1.0" filter="url(#b9)"/>
<path d="M423.20,380.30 C423.20,377.30 424.20,377.30 425.70,377.30 Q432.35,377.30 439.00,377.30 C440.50,377.30 441.50,377.30 441.50,380.30 C441.50,383.30 440.50,383.30 439.00,383.30 Q432.35,383.30 425.70,383.30 C424.20,383.30 423.20,383.30 423.20,380.30 Z" fill="#0e0e0e" opacity="1.0" filter="url(#b9)"/>
<path d="M446.50,380.90 C446.50,377.70 447.50,377.70 449.00,377.70 Q455.70,377.70 462.40,377.70 C463.90,377.70 464.90,377.70 464.90,380.90 C464.90,384.10 463.90,384.10 462.40,384.10 Q455.70,384.10 449.00,384.10 C447.50,384.10 446.50,384.10 446.50,380.90 Z" fill="#0e0e0e" opacity="1.0" filter="url(#b9)"/>
<path d="M470.80,380.50 C470.80,377.10 471.80,377.10 473.30,377.10 Q480.40,377.10 487.50,377.10 C489.00,377.10 490.00,377.10 490.00,380.50 C490.00,383.90 489.00,383.90 487.50,383.90 Q480.40,383.90 473.30,383.90 C471.80,383.90 470.80,383.90 470.80,380.50 Z" fill="#0e0e0e" opacity="1.0" filter="url(#b9)"/>
<text transform="translate(500.70,384.60) scale(1.0,1.0)" font-size="11.6" font-weight="bold" text-anchor="start" fill="#000" >β-actin</text>
<line x1="340.10" y1="542.90" x2="343.10" y2="542.90" stroke="#454545" stroke-width="1.1"/>
<text transform="translate(336.00,548.07) scale(1.0,1.42)" font-size="8.4" font-weight="normal" text-anchor="end" fill="#3a3a3a"  stroke="#3a3a3a" stroke-width="0.35">0</text>
<line x1="340.10" y1="522.16" x2="343.10" y2="522.16" stroke="#454545" stroke-width="1.1"/>
<text transform="translate(336.00,527.33) scale(1.0,1.42)" font-size="8.4" font-weight="normal" text-anchor="end" fill="#3a3a3a"  stroke="#3a3a3a" stroke-width="0.35">0.2</text>
<line x1="340.10" y1="501.42" x2="343.10" y2="501.42" stroke="#454545" stroke-width="1.1"/>
<text transform="translate(336.00,506.59) scale(1.0,1.42)" font-size="8.4" font-weight="normal" text-anchor="end" fill="#3a3a3a"  stroke="#3a3a3a" stroke-width="0.35">0.4</text>
<line x1="340.10" y1="480.68" x2="343.10" y2="480.68" stroke="#454545" stroke-width="1.1"/>
<text transform="translate(336.00,485.85) scale(1.0,1.42)" font-size="8.4" font-weight="normal" text-anchor="end" fill="#3a3a3a"  stroke="#3a3a3a" stroke-width="0.35">0.6</text>
<line x1="340.10" y1="459.94" x2="343.10" y2="459.94" stroke="#454545" stroke-width="1.1"/>
<text transform="translate(336.00,465.11) scale(1.0,1.42)" font-size="8.4" font-weight="normal" text-anchor="end" fill="#3a3a3a"  stroke="#3a3a3a" stroke-width="0.35">0.8</text>
<line x1="340.10" y1="439.20" x2="343.10" y2="439.20" stroke="#454545" stroke-width="1.1"/>
<text transform="translate(336.00,444.37) scale(1.0,1.42)" font-size="8.4" font-weight="normal" text-anchor="end" fill="#3c3c58"  stroke="#3c3c58" stroke-width="0.35">1</text>
<line x1="340.10" y1="418.46" x2="343.10" y2="418.46" stroke="#454545" stroke-width="1.1"/>
<text transform="translate(336.00,423.63) scale(1.0,1.42)" font-size="8.4" font-weight="normal" text-anchor="end" fill="#3c3c58"  stroke="#3c3c58" stroke-width="0.35">1.2</text>
<line x1="340.10" y1="397.72" x2="343.10" y2="397.72" stroke="#454545" stroke-width="1.1"/>
<text transform="translate(336.00,402.89) scale(1.0,1.42)" font-size="8.4" font-weight="normal" text-anchor="end" fill="#3c3c58"  stroke="#3c3c58" stroke-width="0.35">1.4</text>
<line x1="340.10" y1="376.98" x2="343.10" y2="376.98" stroke="#454545" stroke-width="1.1"/>
<text transform="translate(336.00,382.15) scale(1.0,1.42)" font-size="8.4" font-weight="normal" text-anchor="end" fill="#3c3c58"  stroke="#3c3c58" stroke-width="0.35">1.6</text>
<line x1="343.10" y1="376.98" x2="343.10" y2="545.90" stroke="#454545" stroke-width="1.2"/>
<line x1="340.10" y1="542.90" x2="555.50" y2="542.90" stroke="#454545" stroke-width="1.2"/>
<line x1="396.20" y1="542.90" x2="396.20" y2="545.90" stroke="#454545" stroke-width="1.1"/>
<line x1="449.30" y1="542.90" x2="449.30" y2="545.90" stroke="#454545" stroke-width="1.1"/>
<line x1="502.40" y1="542.90" x2="502.40" y2="545.90" stroke="#454545" stroke-width="1.1"/>
<line x1="555.50" y1="542.90" x2="555.50" y2="545.90" stroke="#454545" stroke-width="1.1"/>
<rect x="359.35" y="473.71" width="20.60" height="69.19" fill="#a6a6a6" stroke="#404040" stroke-width="1.2" />
<line x1="369.65" y1="473.71" x2="369.65" y2="466.25" stroke="#3a3a3a" stroke-width="1.15"/>
<line x1="368.15" y1="466.45" x2="371.15" y2="466.45" stroke="#333" stroke-width="1.5"/>
<rect x="412.45" y="411.60" width="20.60" height="131.30" fill="#a6a6a6" stroke="#404040" stroke-width="1.2" />
<line x1="422.75" y1="411.60" x2="422.75" y2="404.96" stroke="#3a3a3a" stroke-width="1.15"/>
<line x1="421.25" y1="405.16" x2="424.25" y2="405.16" stroke="#333" stroke-width="1.5"/>
<polygon points="419.80,396.50 420.62,398.37 422.65,398.57 421.13,399.93 421.56,401.93 419.80,400.90 418.04,401.93 418.47,399.93 416.95,398.57 418.98,398.37" fill="#1a1a1a"/>
<polygon points="426.30,396.50 427.12,398.37 429.15,398.57 427.63,399.93 428.06,401.93 426.30,400.90 424.54,401.93 424.97,399.93 423.45,398.57 425.48,398.37" fill="#1a1a1a"/>
<rect x="465.55" y="435.03" width="20.60" height="107.87" fill="#a6a6a6" stroke="#404040" stroke-width="1.2" />
<line x1="475.85" y1="435.03" x2="475.85" y2="424.87" stroke="#3a3a3a" stroke-width="1.15"/>
<line x1="474.35" y1="425.07" x2="477.35" y2="425.07" stroke="#333" stroke-width="1.5"/>
<polygon points="472.90,416.60 473.72,418.47 475.75,418.67 474.23,420.03 474.66,422.03 472.90,421.00 471.14,422.03 471.57,420.03 470.05,418.67 472.08,418.47" fill="#1a1a1a"/>
<polygon points="479.40,416.60 480.22,418.47 482.25,418.67 480.73,420.03 481.16,422.03 479.40,421.00 477.64,422.03 478.07,420.03 476.55,418.67 478.58,418.47" fill="#1a1a1a"/>
<rect x="518.65" y="454.11" width="20.60" height="88.79" fill="#a6a6a6" stroke="#404040" stroke-width="1.2" />
<line x1="528.95" y1="454.11" x2="528.95" y2="432.86" stroke="#3a3a3a" stroke-width="1.15"/>
<line x1="527.45" y1="433.06" x2="530.45" y2="433.06" stroke="#333" stroke-width="1.5"/>
<text transform="translate(369.65,564.91) scale(1.0,1.3)" font-size="8.4" font-weight="normal" text-anchor="middle" fill="#3a3a3a"  stroke="#3a3a3a" stroke-width="0.35">1</text>
<text transform="translate(422.75,564.91) scale(1.0,1.3)" font-size="8.4" font-weight="normal" text-anchor="middle" fill="#3a3a3a"  stroke="#3a3a3a" stroke-width="0.35">2</text>
<text transform="translate(475.85,564.91) scale(1.0,1.3)" font-size="8.4" font-weight="normal" text-anchor="middle" fill="#3a3a3a"  stroke="#3a3a3a" stroke-width="0.35">3</text>
<text transform="translate(528.95,564.91) scale(1.0,1.3)" font-size="8.4" font-weight="normal" text-anchor="middle" fill="#3a3a3a"  stroke="#3a3a3a" stroke-width="0.35">4</text>
<text transform="translate(315.92,460.25) rotate(-90) scale(1.295,1.0)" font-size="9.0" font-weight="bold" text-anchor="middle" fill="#111"  stroke="#111" stroke-width="0.25">Relative NICD Expression</text>
<text transform="translate(272.50,616.10) scale(1.0,1.0)" font-size="13" font-weight="normal" text-anchor="start" fill="#111" >Bottom</text>
<text transform="translate(379.60,643.90) scale(1.0,1.0)" font-size="14.6" font-weight="normal" text-anchor="start" fill="#111" >Corresponding author:</text>
<text transform="translate(379.60,661.90) scale(1.0,1.0)" font-size="14.6" font-weight="normal" text-anchor="start" fill="#111" >Kiminobu Sugaya, Ph.D.</text></g></svg>
</body></html>
